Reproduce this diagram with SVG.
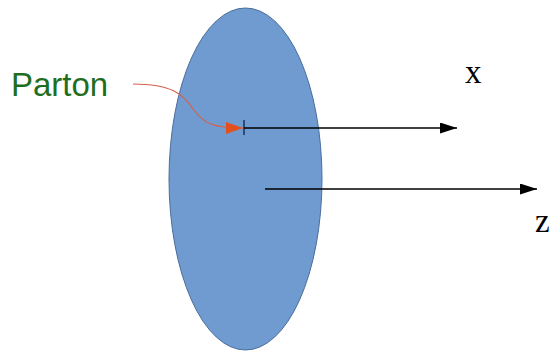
<svg xmlns="http://www.w3.org/2000/svg" width="550" height="353" viewBox="0 0 550 353">
<style>
.axis{stroke:#000;stroke-width:1.3;fill:none}
.lbl{font-family:"Liberation Serif",serif;font-size:33px;fill:#000}
</style>
<defs>
<marker id="ah" markerWidth="17" markerHeight="11" refX="17" refY="5.5" orient="auto" markerUnits="userSpaceOnUse"><path d="M0,0 L17,5.5 L0,11 Z" fill="#000"/></marker>
<marker id="rh" markerWidth="17" markerHeight="12" refX="17" refY="6" orient="auto" markerUnits="userSpaceOnUse"><path d="M0,0 L17,6 L0,12 Z" fill="#e2501f"/></marker>
</defs>
<g id="disk"><ellipse cx="245.5" cy="179" rx="76.5" ry="171" fill="#6f9bd1" stroke="#4a6d9a" stroke-width="1"/></g>
<g id="parton-label"><text x="11" y="96" font-family="Liberation Sans, Arial, sans-serif" font-size="33" fill="#1f6e1f">Parton</text></g>
<g id="x-label"><text class="lbl" x="465" y="83">x</text></g>
<g id="z-label"><text class="lbl" x="535" y="232">z</text></g>
<g id="connectors">
<path d="M133,84 C172,84 183,94 194,110 C204,124 214,128 243,128" fill="none" stroke="#d5604a" stroke-width="1.2" marker-end="url(#rh)"/>
<line x1="244" y1="120" x2="244" y2="135" stroke="#1f2f5a" stroke-width="1.5"/>
<line class="axis" x1="244" y1="128" x2="457" y2="128" marker-end="url(#ah)"/>
<line class="axis" x1="265" y1="189" x2="537" y2="189" marker-end="url(#ah)"/>
</g>
</svg>
